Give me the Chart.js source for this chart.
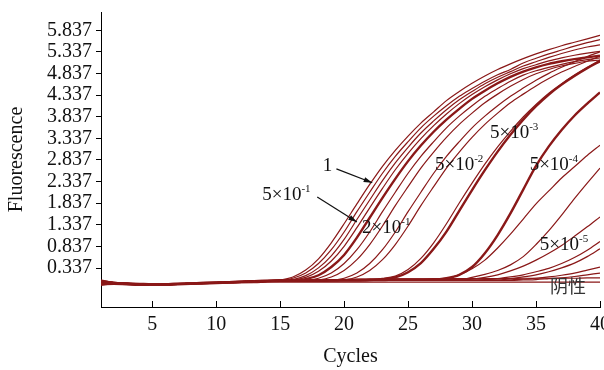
<!DOCTYPE html>
<html>
<head>
<meta charset="utf-8">
<script src="https://cdn.jsdelivr.net/npm/chart.js@4.4.1/dist/chart.umd.min.js"></script>
<style>
  html, body { margin: 0; padding: 0; background: #fff; }
  #wrap { width: 604px; height: 370px; }
</style>
</head>
<body>
<div id="wrap"><canvas id="qpcrChart" width="604" height="370"></canvas></div>
<script>
// Amplification curves, fluorescence per cycle
const cycles = [1,2,3,4,5,6,7,8,9,10,11,12,13,14,15,16,17,18,19,20,21,22,23,24,25,26,27,28,29,30,31,32,33,34,35,36,37,38,39,40];

const yTickValues = [0.337,0.837,1.337,1.837,2.337,2.837,3.337,3.837,4.337,4.837,5.337,5.837];
const xTickValues = [5,10,15,20,25,30,35,40];

// dilution 1
const curve1a = [0.06,0.00,-0.03,-0.04,-0.04,-0.04,-0.03,-0.02,-0.01,0.00,0.01,0.02,0.03,0.04,0.06,0.13,0.29,0.55,0.92,1.36,1.82,2.27,2.69,3.06,3.39,3.69,3.95,4.21,4.42,4.61,4.78,4.93,5.06,5.18,5.29,5.39,5.48,5.56,5.64,5.72];
const curve1b = [-0.05,-0.03,-0.04,-0.05,-0.05,-0.04,-0.03,-0.02,-0.01,0.00,0.01,0.02,0.03,0.04,0.05,0.10,0.22,0.44,0.76,1.17,1.64,2.09,2.53,2.92,3.26,3.58,3.85,4.09,4.31,4.49,4.66,4.81,4.93,5.08,5.19,5.29,5.38,5.47,5.55,5.62];
// 5x10^-1
const curve2a = [0.03,-0.01,-0.03,-0.04,-0.05,-0.04,-0.03,-0.02,-0.01,0.00,0.01,0.01,0.02,0.03,0.04,0.07,0.16,0.34,0.62,1.00,1.46,1.91,2.36,2.77,3.13,3.46,3.74,4.00,4.23,4.42,4.60,4.75,4.88,5.01,5.11,5.21,5.30,5.38,5.45,5.50];
const curve2b = [-0.02,-0.02,-0.03,-0.04,-0.04,-0.04,-0.03,-0.02,-0.01,0.00,0.00,0.01,0.02,0.03,0.03,0.06,0.12,0.26,0.50,0.84,1.27,1.73,2.18,2.61,2.99,3.33,3.63,3.90,4.14,4.35,4.53,4.69,4.83,4.95,5.04,5.13,5.20,5.26,5.31,5.35];
// 2x10^-1
const curve3a = [0.01,-0.01,-0.02,-0.03,-0.04,-0.04,-0.03,-0.02,-0.01,0.00,0.01,0.02,0.03,0.04,0.05,0.05,0.08,0.17,0.36,0.64,1.04,1.50,1.96,2.40,2.81,3.17,3.49,3.77,4.02,4.25,4.44,4.61,4.76,4.88,4.98,5.06,5.12,5.17,5.21,5.25];
const curve3b = [-0.06,-0.03,-0.03,-0.04,-0.04,-0.04,-0.03,-0.02,-0.01,0.00,0.01,0.02,0.02,0.03,0.04,0.04,0.05,0.10,0.22,0.44,0.76,1.17,1.64,2.09,2.53,2.92,3.26,3.58,3.85,4.09,4.31,4.49,4.66,4.80,4.90,4.98,5.05,5.11,5.16,5.20];
const curve3c = [0.04,0.00,-0.02,-0.03,-0.04,-0.04,-0.03,-0.02,-0.01,0.00,0.01,0.02,0.03,0.03,0.04,0.04,0.04,0.06,0.13,0.28,0.53,0.88,1.31,1.78,2.22,2.65,3.02,3.36,3.66,3.92,4.16,4.36,4.54,4.70,4.83,4.93,5.01,5.07,5.12,5.15];
// 5x10^-2
const curve4a = [-0.03,-0.02,-0.03,-0.04,-0.04,-0.04,-0.03,-0.02,-0.01,0.00,0.01,0.02,0.02,0.03,0.03,0.03,0.03,0.03,0.05,0.10,0.22,0.44,0.76,1.17,1.64,2.09,2.53,2.92,3.26,3.58,3.85,4.09,4.31,4.50,4.68,4.84,4.98,5.11,5.23,5.34];
const curve4b = [0.02,-0.01,-0.03,-0.04,-0.05,-0.05,-0.04,-0.03,-0.02,-0.01,0.00,0.01,0.02,0.03,0.03,0.03,0.04,0.04,0.04,0.06,0.13,0.28,0.53,0.88,1.31,1.78,2.22,2.65,3.02,3.36,3.66,3.92,4.16,4.36,4.55,4.72,4.87,5.00,5.12,5.24];
// 5x10^-3
const curve5a = [-0.04,-0.03,-0.04,-0.05,-0.05,-0.05,-0.04,-0.03,-0.02,-0.01,0.00,0.01,0.02,0.03,0.04,0.04,0.04,0.04,0.05,0.05,0.05,0.06,0.08,0.12,0.24,0.45,0.78,1.18,1.66,2.14,2.60,3.03,3.42,3.77,4.08,4.35,4.58,4.78,4.96,5.12];
const curve5b = [0.05,0.01,-0.02,-0.03,-0.04,-0.04,-0.03,-0.02,-0.01,0.00,0.01,0.02,0.03,0.04,0.05,0.05,0.05,0.05,0.06,0.06,0.07,0.08,0.10,0.15,0.30,0.56,0.92,1.36,1.84,2.30,2.74,3.14,3.50,3.83,4.12,4.38,4.60,4.80,4.98,5.15];
// 5x10^-4
const curve6a = [-0.01,-0.02,-0.03,-0.04,-0.04,-0.04,-0.03,-0.02,-0.01,0.00,0.01,0.02,0.03,0.04,0.05,0.05,0.05,0.05,0.05,0.06,0.06,0.06,0.06,0.07,0.07,0.07,0.07,0.10,0.18,0.36,0.68,1.10,1.60,2.15,2.70,3.15,3.53,3.86,4.14,4.40];
const curve6b = [0.02,0.00,-0.02,-0.03,-0.04,-0.04,-0.03,-0.02,-0.01,0.00,0.01,0.02,0.03,0.04,0.05,0.05,0.06,0.06,0.06,0.06,0.07,0.07,0.07,0.08,0.08,0.08,0.09,0.10,0.18,0.32,0.52,0.80,1.12,1.47,1.82,2.12,2.42,2.68,2.94,3.18];
const curve6c = [-0.03,-0.02,-0.03,-0.04,-0.04,-0.04,-0.03,-0.02,-0.01,0.00,0.01,0.02,0.03,0.04,0.04,0.05,0.05,0.05,0.06,0.06,0.06,0.06,0.07,0.07,0.07,0.07,0.07,0.07,0.07,0.12,0.19,0.28,0.41,0.60,0.88,1.20,1.56,1.94,2.30,2.65];
const curve6d = [0.00,-0.01,-0.03,-0.04,-0.04,-0.04,-0.03,-0.02,-0.01,0.00,0.01,0.02,0.03,0.03,0.04,0.04,0.05,0.05,0.05,0.05,0.06,0.06,0.06,0.06,0.06,0.06,0.06,0.06,0.06,0.08,0.12,0.18,0.27,0.38,0.52,0.68,0.86,1.07,1.29,1.52];
// 5x10^-5
const curve7a = [0.03,0.00,-0.02,-0.03,-0.04,-0.04,-0.03,-0.02,-0.01,0.00,0.01,0.02,0.02,0.03,0.04,0.04,0.04,0.05,0.05,0.05,0.05,0.05,0.05,0.06,0.06,0.06,0.06,0.06,0.06,0.06,0.07,0.09,0.13,0.18,0.25,0.33,0.44,0.58,0.75,0.95];
const curve7b = [-0.02,-0.02,-0.03,-0.04,-0.05,-0.05,-0.04,-0.03,-0.02,-0.01,0.00,0.01,0.02,0.03,0.03,0.03,0.04,0.04,0.04,0.04,0.04,0.05,0.05,0.05,0.05,0.05,0.05,0.05,0.05,0.05,0.06,0.06,0.09,0.13,0.18,0.25,0.34,0.45,0.60,0.78];
const curve7c = [0.01,-0.01,-0.02,-0.03,-0.04,-0.04,-0.03,-0.02,-0.01,0.00,0.01,0.02,0.03,0.03,0.04,0.04,0.04,0.05,0.05,0.05,0.05,0.05,0.05,0.05,0.05,0.05,0.05,0.05,0.05,0.05,0.05,0.05,0.06,0.08,0.10,0.13,0.17,0.22,0.29,0.36];
const curve7d = [-0.01,-0.01,-0.02,-0.03,-0.04,-0.04,-0.03,-0.02,-0.01,0.00,0.01,0.02,0.02,0.03,0.04,0.04,0.04,0.04,0.05,0.05,0.05,0.05,0.05,0.05,0.05,0.05,0.05,0.05,0.05,0.05,0.05,0.05,0.05,0.06,0.07,0.09,0.11,0.14,0.18,0.22];
// negative controls
const negA = [0.02,0.00,-0.02,-0.03,-0.03,-0.03,-0.02,-0.01,0.00,0.01,0.02,0.03,0.04,0.05,0.06,0.06,0.07,0.07,0.07,0.07,0.08,0.08,0.08,0.08,0.08,0.08,0.08,0.09,0.09,0.09,0.09,0.09,0.09,0.10,0.10,0.10,0.10,0.10,0.11,0.11];
const negB = [-0.04,-0.03,-0.04,-0.05,-0.05,-0.05,-0.04,-0.03,-0.02,-0.02,-0.01,0.00,0.00,0.01,0.01,0.01,0.01,0.01,0.01,0.01,0.01,0.01,0.01,0.01,0.01,0.01,0.01,0.01,0.01,0.01,0.01,0.01,0.01,0.01,0.01,0.01,0.01,0.01,0.01,0.01];

const thinCurves = [curve1a, curve1b, curve2a, curve2b, curve3b, curve3c, curve4a, curve4b, curve5b, curve6b, curve6c, curve6d, curve7a, curve7b, curve7c, curve7d, negA, negB];
const thickCurves = [curve3a, curve5a, curve6a];

// text labels on the plot: [cycle, fluorescence, base, exponent]
const sciLabels = [
    [13.6, 2.03, '5×10', '-1'],
    [21.4, 1.26, '2×10', '-1'],
    [27.1, 2.72, '5×10', '-2'],
    [31.4, 3.46, '5×10', '-3'],
    [34.5, 2.72, '5×10', '-4'],
    [35.3, 0.87, '5×10', '-5']
];
const arrows = [
    [19.4, 2.63, 22.2, 2.31],
    [17.9, 1.98, 21.0, 1.40]
];

const lineColor = 'rgb(138,24,24)';
const serif = '"Liberation Serif", "Times New Roman", serif';

function makeSet(data, width) {
    return {
        data: cycles.map((c, i) => ({ x: c, y: data[i] })),
        borderColor: lineColor,
        borderWidth: width,
        pointRadius: 0,
        fill: false,
        cubicInterpolationMode: 'monotone'
    };
}

const datasets = thinCurves.map(d => makeSet(d, 1.2)).concat(thickCurves.map(d => makeSet(d, 2.4)));

// inward x ticks + annotations
const extras = {
    id: 'extras',
    afterDatasetsDraw(chart) {
        const c = chart.ctx;
        const xs = chart.scales.x, ys = chart.scales.y;
        const px = v => xs.getPixelForValue(v);
        const py = v => ys.getPixelForValue(v);
        c.save();
        c.strokeStyle = '#000';
        c.lineWidth = 1;
        xTickValues.forEach(v => {
            const x = Math.round(px(v)) + 0.5;
            c.beginPath();
            c.moveTo(x, xs.top);
            c.lineTo(x, xs.top - 6);
            c.stroke();
        });

        c.fillStyle = '#111';
        c.textBaseline = 'middle';
        c.font = '19px ' + serif;
        c.textAlign = 'center';
        c.fillText('1', px(18.7), py(2.70));
        c.textAlign = 'left';
        sciLabels.forEach(([cx, cy, base, exp]) => {
            const x = px(cx), y = py(cy);
            c.font = '19px ' + serif;
            c.fillText(base, x, y);
            const w = c.measureText(base).width;
            c.font = '11px ' + serif;
            c.fillText(exp, x + w, y - 6);
        });
        c.font = '18px "Noto Sans CJK SC"';
        c.fillStyle = '#333';
        c.fillText('阴性', px(36.1), py(-0.08));

        c.strokeStyle = '#111';
        c.fillStyle = '#111';
        c.lineWidth = 1.2;
        arrows.forEach(([x1, y1, x2, y2]) => {
            const ax = px(x1), ay = py(y1), bx = px(x2), by = py(y2);
            const ang = Math.atan2(by - ay, bx - ax);
            c.beginPath();
            c.moveTo(ax, ay);
            c.lineTo(bx, by);
            c.stroke();
            c.beginPath();
            c.moveTo(bx, by);
            c.lineTo(bx - 9 * Math.cos(ang - 0.3), by - 9 * Math.sin(ang - 0.3));
            c.lineTo(bx - 9 * Math.cos(ang + 0.3), by - 9 * Math.sin(ang + 0.3));
            c.closePath();
            c.fill();
        });
        c.restore();
    }
};

new Chart(document.getElementById('qpcrChart'), {
    type: 'line',
    data: { datasets: datasets },
    options: {
        responsive: false,
        animation: false,
        layout: { padding: { top: 12, right: 4, left: 0, bottom: 0 } },
        plugins: { legend: { display: false }, tooltip: { enabled: false } },
        scales: {
            x: {
                type: 'linear',
                min: 1,
                max: 40,
                afterBuildTicks: s => { s.ticks = xTickValues.map(v => ({ value: v })); },
                afterFit: s => { s.height = 63; s.paddingLeft = 0; s.paddingRight = 0; },
                grid: { display: false, drawTicks: false },
                border: { display: true, color: '#000', width: 1 },
                ticks: { color: '#111', font: { family: serif, size: 20 }, padding: 6, maxRotation: 0, autoSkip: false },
                title: { display: true, text: 'Cycles', color: '#111', font: { family: serif, size: 20 }, padding: { top: 0, bottom: 1 } }
            },
            y: {
                type: 'linear',
                min: -0.565,
                max: 6.26,
                afterBuildTicks: s => { s.ticks = yTickValues.map(v => ({ value: v })); },
                afterFit: s => { s.width = 101; s.paddingTop = 0; s.paddingBottom = 0; },
                grid: { display: true, drawOnChartArea: false, drawTicks: true, tickLength: 5, color: '#000' },
                border: { display: true, color: '#000', width: 1 },
                ticks: { color: '#111', font: { family: serif, size: 20 }, padding: 4, autoSkip: false, callback: v => v.toFixed(3) },
                title: { display: true, text: 'Fluorescence', color: '#111', font: { family: serif, size: 20 }, padding: { top: 5, bottom: 0 } }
            }
        }
    },
    plugins: [extras]
});
</script>
</body>
</html>
